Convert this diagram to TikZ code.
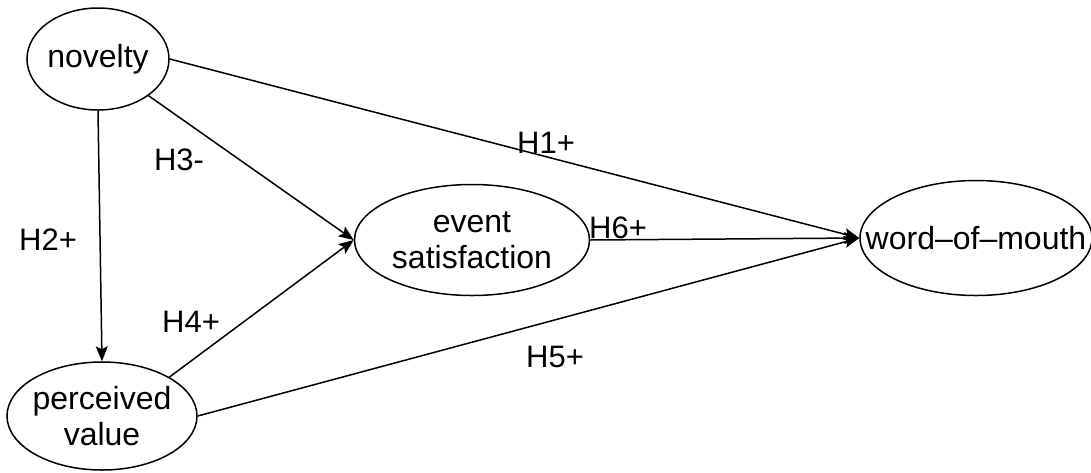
\documentclass[tikz,border=0pt]{standalone}
\usepackage{fontspec}
\setmainfont{Liberation Sans}
\usetikzlibrary{shapes.geometric,arrows.meta}
\begin{document}
\begin{tikzpicture}[x=1pt,y=-1pt,
  latent/.style={ellipse,draw,line width=1.5pt,inner sep=0pt},
  txt/.style={align=center,inner sep=0pt,font=\fontsize{32}{36}\selectfont},
  hyp/.style={font=\fontsize{31}{35}\selectfont,inner sep=0pt},
  path/.style={line width=1.5pt,-{Stealth[length=15pt,width=12pt,inset=3pt]}}]
\useasboundingbox (0,0) rectangle (1091,472);
\node[latent,minimum width=142pt,minimum height=102pt,
  label={[txt]center:novelty}] (nov) at (98,59) {};
\node[latent,minimum width=190pt,minimum height=108pt,
  label={[txt]center:perceived\\value}] (pv) at (102,416) {};
\node[latent,minimum width=235pt,minimum height=111pt,
  label={[txt]center:event\\satisfaction}] (es) at (472,240) {};
\node[latent,minimum width=232pt,minimum height=115pt,
  label={[txt]center:word–of–mouth}] (wom) at (976,238) {};
\draw[path] (nov.east) -- (wom.west);
\draw[path] (nov.-36) -- (es.west);
\draw[path] (nov.south) -- (pv.north);
\draw[path] (pv.30) -- (es.west);
\draw[path] (es.east) -- (wom.west);
\draw[path] (pv.east) -- (wom.west);
\node[hyp] (h1) at (546,143) {H1+};
\node[hyp] (h3) at (179,160) {H3-};
\node[hyp] (h2) at (48,240) {H2+};
\node[hyp] (h6) at (618,228) {H6+};
\node[hyp] (h4) at (191,322) {H4+};
\node[hyp] (h5) at (555,357) {H5+};
\end{tikzpicture}
\end{document}
